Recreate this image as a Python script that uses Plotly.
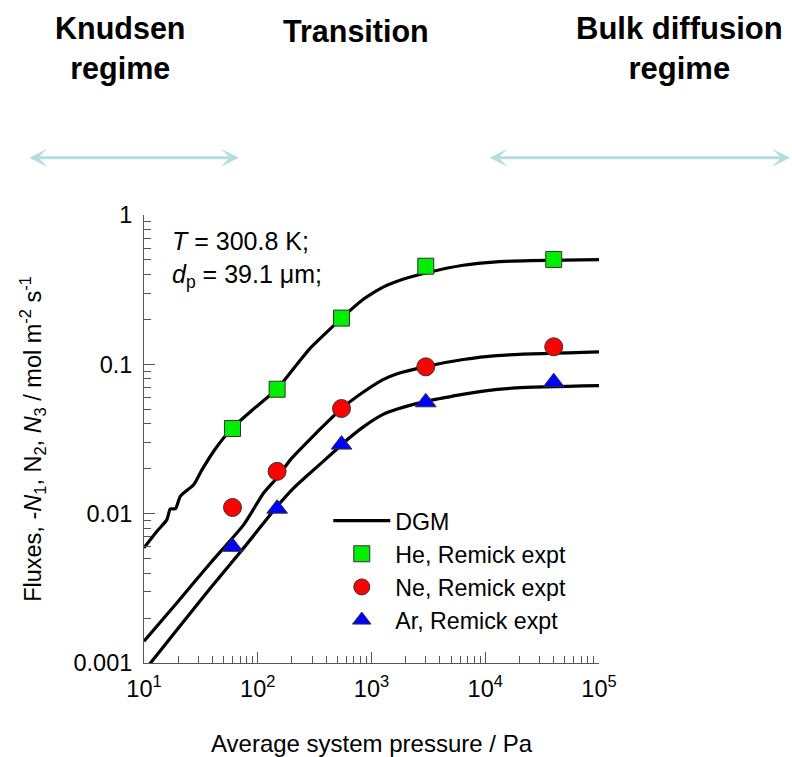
import plotly.graph_objects as go

# ---------------- data ----------------
# Experimental points (Remick)
p_expt = [60, 148, 545, 3000, 40000]
he_expt = [0.0372, 0.0681, 0.204, 0.454, 0.504]
ne_expt = [0.0110, 0.0192, 0.0506, 0.0962, 0.131]
ar_expt = [0.0060, 0.0108, 0.029, 0.0557, 0.0759]

# DGM model curves
he_p = [10, 13, 15.9, 17, 18.9, 20.9, 27.4, 32.4, 42, 60, 94.2, 148, 226, 286, 459, 545,
        843, 1033, 1264, 1660, 3050, 6400, 12560, 24660, 100000]
he_dgm = [0.0059, 0.00762, 0.00912, 0.01076, 0.0108, 0.0131, 0.01566, 0.0197, 0.0269,
          0.0376, 0.0511, 0.0685, 0.102, 0.127, 0.180, 0.204, 0.272, 0.301, 0.329, 0.359,
          0.410, 0.461, 0.486, 0.495, 0.503]

ne_p = [10, 19.5, 38.4, 75.3, 113, 148, 194, 328, 402, 545, 843, 1264, 1660, 3000, 6400,
        12560, 100000]
ne_dgm = [0.0014, 0.00253, 0.00468, 0.00845, 0.0138, 0.0174, 0.023, 0.0348, 0.0405, 0.0506,
          0.065, 0.079, 0.0862, 0.0965, 0.1077, 0.1145, 0.121]

ar_p = [10, 11.4, 19.5, 38.4, 75.3, 148, 207.6, 268, 492, 545, 843, 1264, 1660, 3000, 4000,
        5600, 10000, 18800, 100000]
ar_dgm = [0.00088, 0.001, 0.00167, 0.00318, 0.0059, 0.0112, 0.0149, 0.0178, 0.0269, 0.029,
          0.038, 0.0462, 0.0500, 0.0565, 0.059, 0.062, 0.0665, 0.0695, 0.072]

x_tickvals = [10, 100, 1000, 10000, 100000]
x_ticktext = ["10<sup>1</sup>", "10<sup>2</sup>", "10<sup>3</sup>", "10<sup>4</sup>", "10<sup>5</sup>"]
y_tickvals = [0.001, 0.01, 0.1, 1]
y_ticktext = ["0.001", "0.01", "0.1", "1"]

# ---------------- figure ----------------
FONT = "Liberation Sans, Arial, sans-serif"
fig = go.Figure()

line_style = dict(color="black", width=3.2, shape="spline", smoothing=0.6)
fig.add_trace(go.Scatter(x=he_p, y=he_dgm, mode="lines", line=line_style, name="DGM",
                         legendgroup="a", showlegend=True))
fig.add_trace(go.Scatter(x=ne_p, y=ne_dgm, mode="lines", line=line_style, name="DGM",
                         legendgroup="a", showlegend=False))
fig.add_trace(go.Scatter(x=ar_p, y=ar_dgm, mode="lines", line=line_style, name="DGM",
                         legendgroup="a", showlegend=False))

mline = dict(color="#333333", width=1)
fig.add_trace(go.Scatter(x=p_expt, y=he_expt, mode="markers", name="He, Remick expt",
                         legendgroup="b",
                         marker=dict(symbol="square", size=16, color="#00ee00", line=mline)))
fig.add_trace(go.Scatter(x=p_expt, y=ne_expt, mode="markers", name="Ne, Remick expt",
                         legendgroup="c",
                         marker=dict(symbol="circle", size=18, color="#ff0000", line=mline)))
fig.add_trace(go.Scatter(x=p_expt, y=ar_expt, mode="markers", name="Ar, Remick expt",
                         legendgroup="d",
                         marker=dict(symbol="triangle-up", size=18, color="#0000ff", line=mline)))

minor_vals = [m * 10 ** e for e in range(-3, 5) for m in range(2, 10)]

axis_common = dict(
    showgrid=False, zeroline=False, showline=True, linecolor="#555555", linewidth=1,
    ticks="inside", ticklen=11, tickcolor="#555555", tickwidth=1,
    mirror=False,
    tickfont=dict(family=FONT, size=23.5, color="black"),
)

fig.update_xaxes(
    type="log", range=[1, 5], tickmode="array", tickvals=x_tickvals, ticktext=x_ticktext,
    minor=dict(tickmode="array", tickvals=minor_vals, ticks="inside", ticklen=7,
               tickcolor="#555555", tickwidth=1),
    title=dict(text="Average system pressure / Pa", font=dict(family=FONT, size=24, color="black"),
               standoff=34),
    ticklabelstandoff=5,
    **axis_common,
)
fig.update_yaxes(
    type="log", range=[-3, 0], tickmode="array", tickvals=y_tickvals, ticktext=y_ticktext,
    minor=dict(tickmode="array", tickvals=minor_vals, ticks="inside", ticklen=7,
               tickcolor="#555555", tickwidth=1),
    title=dict(text="Fluxes, -<i>N</i><sub>1</sub>, N<sub>2</sub>, <i>N</i><sub>3</sub> / mol m<sup>-2</sup> s<sup>-1</sup>",
               font=dict(family=FONT, size=23.5, color="black"), standoff=25),
    ticklabelstandoff=6,
    **axis_common,
)

annotations = [
    dict(text="<i>T</i> = 300.8 K;<br><i>d</i><sub>p</sub> = 39.1 μm;", xref="paper", yref="paper",
         x=0.058, y=0.978, xanchor="left", yanchor="top", align="left", showarrow=False,
         font=dict(family=FONT, size=25, color="black")),
    dict(text="<b>Knudsen<br>regime</b>", xref="paper", yref="paper", x=-0.0534, y=1.372,
         xanchor="center", yanchor="middle", showarrow=False,
         font=dict(family=FONT, size=30.5, color="black")),
    dict(text="<b>Transition</b>", xref="paper", yref="paper", x=0.4655, y=1.41,
         xanchor="center", yanchor="middle", showarrow=False,
         font=dict(family=FONT, size=30.5, color="black")),
    dict(text="<b>Bulk diffusion<br>regime</b>", xref="paper", yref="paper", x=1.178, y=1.372,
         xanchor="center", yanchor="middle", showarrow=False,
         font=dict(family=FONT, size=31, color="black")),
    # regime arrows
    dict(text="", xref="paper", yref="paper", x=0.2083, y=1.128, ax=-211, ay=0,
         axref="pixel", ayref="pixel", showarrow=True, arrowside="end+start",
         arrowhead=3, arrowsize=1.0, arrowwidth=3, arrowcolor="#b3dde1", standoff=0,
         startstandoff=0),
    dict(text="", xref="paper", yref="paper", x=1.420, y=1.128, ax=-302, ay=0,
         axref="pixel", ayref="pixel", showarrow=True, arrowside="end+start",
         arrowhead=3, arrowsize=1.0, arrowwidth=3, arrowcolor="#b3dde1", standoff=0,
         startstandoff=0),
]

fig.update_layout(
    width=792, height=757,
    margin=dict(l=144, r=193, t=215, b=94, autoexpand=False),
    paper_bgcolor="white", plot_bgcolor="white",
    font=dict(family=FONT, color="black"),
    showlegend=True,
    legend=dict(x=0.405, y=0.366, xanchor="left", yanchor="top",
                bgcolor="rgba(0,0,0,0)", borderwidth=0,
                font=dict(family=FONT, size=23.2, color="black"),
                itemwidth=57, tracegroupgap=0, traceorder="grouped"),
    annotations=annotations,
)

fig.write_html("out.html")
